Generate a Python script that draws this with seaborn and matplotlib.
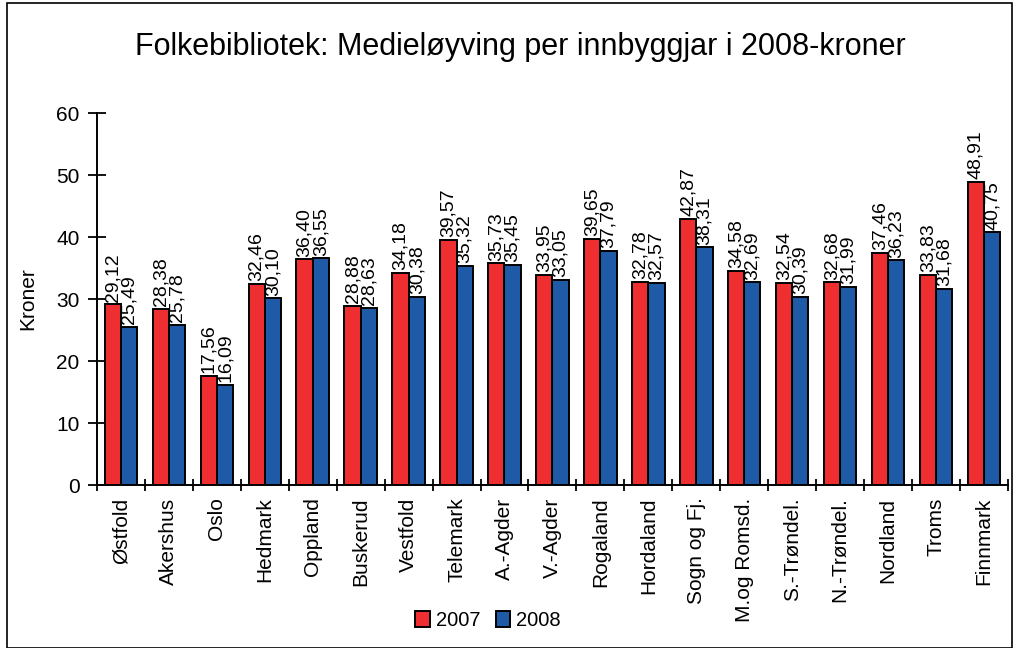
import numpy as np
import pandas as pd
import matplotlib.pyplot as plt
import seaborn as sns
from matplotlib.patches import Rectangle

# data
fylke = ["Østfold", "Akershus", "Oslo", "Hedmark", "Oppland", "Buskerud",
         "Vestfold", "Telemark", "A.-Agder", "V.-Agder", "Rogaland",
         "Hordaland", "Sogn og Fj.", "M.og Romsd.", "S.-Trøndel.",
         "N.-Trøndel.", "Nordland", "Troms", "Finnmark"]
kr_2007 = [29.12, 28.38, 17.56, 32.46, 36.40, 28.88, 34.18, 39.57, 35.73,
           33.95, 39.65, 32.78, 42.87, 34.58, 32.54, 32.68, 37.46, 33.83, 48.91]
kr_2008 = [25.49, 25.78, 16.09, 30.10, 36.55, 28.63, 30.38, 35.32, 35.45,
           33.05, 37.79, 32.57, 38.31, 32.69, 30.39, 31.99, 36.23, 31.68, 40.75]
years = ["2007", "2008"]

df = pd.DataFrame({
    "fylke": fylke * 2,
    "kroner": kr_2007 + kr_2008,
    "aar": [years[0]] * len(fylke) + [years[1]] * len(fylke),
})

sns.set_style("white", {"text.color": "black", "axes.labelcolor": "black",
                        "xtick.color": "black", "ytick.color": "black"})
plt.rcParams["font.family"] = ["Liberation Sans", "DejaVu Sans"]

fig = plt.figure(figsize=(10.17, 6.48), dpi=100)
ax = fig.add_axes([0.0954, 0.2515, 0.8956, 0.5741])

sns.barplot(data=df, x="fylke", y="kroner", hue="aar",
            palette=["#EE2E31", "#1F5AA6"], width=0.68,
            edgecolor="black", linewidth=1.4, saturation=1,
            ax=ax, legend=True)

for cont in ax.containers:
    labels = [f"{v:.2f}".replace(".", ",") for v in cont.datavalues]
    ax.bar_label(cont, labels=labels, rotation=90, padding=2, fontsize=14)

ax.set_ylim(0, 60)
ax.set_xlim(-0.5, len(fylke) - 0.5)
ax.set_yticks(range(0, 61, 10))
ax.set_xlabel("")
ax.set_ylabel("Kroner", fontsize=15, labelpad=14)
ax.tick_params(axis="y", labelsize=15, direction="inout", length=13, width=1.3,
               left=True, pad=6)
ax.tick_params(axis="x", which="major", length=0, labelsize=15, pad=9)
ax.set_xticks(np.arange(-0.5, len(fylke)), minor=True)
ax.tick_params(axis="x", which="minor", direction="inout", length=8, width=1.3,
               bottom=True)
for lab in ax.get_xticklabels():
    lab.set_rotation(90)
    lab.set_va("top")
    lab.set_ha("center")

sns.despine(ax=ax)
for s in ["left", "bottom"]:
    ax.spines[s].set_linewidth(1.4)
    ax.spines[s].set_color("black")

ax.legend_.remove()
handles, lbls = ax.get_legend_handles_labels()
fig.legend(handles, lbls, loc="lower center", bbox_to_anchor=(0.48, 0.0),
           ncol=2, frameon=False, fontsize=14.5, handlelength=0.7,
           handleheight=0.9, handletextpad=0.3, columnspacing=0.8)

fig.text(0.512, 0.927, "Folkebibliotek: Medieløyving per innbyggjar i 2008-kroner",
         ha="center", va="center", fontsize=22)

fig.patches.append(Rectangle((0.007, 0.0), 0.988, 0.995, transform=fig.transFigure,
                             fill=False, edgecolor="black", linewidth=1.2))

fig.savefig("out.png", dpi=100)
